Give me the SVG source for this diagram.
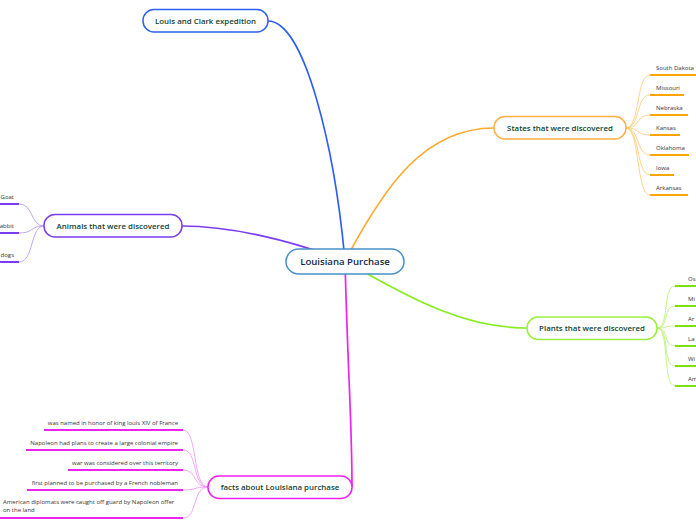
<svg xmlns="http://www.w3.org/2000/svg" width="696" height="520" viewBox="0 0 696 520">
<style>
.node rect{fill:#fff;stroke-width:1.5}
.lbl{font-family:"Open Sans","Noto Sans",sans-serif;font-size:7.9px;font-weight:600;fill:#123f30;text-anchor:middle}
.leaf{font-family:"Open Sans","Noto Sans",sans-serif;font-size:6px;fill:#333}
.main{fill:none;stroke-width:1.7}
.sub{fill:none;stroke-width:0.8}
.ul{stroke-width:2}
</style>
<rect width="696" height="520" fill="#fff"/>
<g id="connectors">
<path class="main" stroke="#2d5ff0" d="M345,261 C335,150 305,21 268,21"/>
<path class="main" stroke="#ffa92e" d="M345,261 C385,185 425,128 494,128"/>
<path class="main" stroke="#7b3cf0" d="M345,261 C290,240 230,226 182,226"/>
<path class="main" stroke="#88ee22" d="M345,261 C420,305 470,328 527,328"/>
<path class="main" stroke="#ee22ee" d="M345,261 C348,380 352,420 352,487"/>
<g stroke="#ffc870">
<path class="sub" d="M626,128 C640,128 636,75 650,75"/>
<path class="sub" d="M626,128 C640,128 636,95 650,95"/>
<path class="sub" d="M626,128 C640,128 636,115 650,115"/>
<path class="sub" d="M626,128 C640,128 636,135 650,135"/>
<path class="sub" d="M626,128 C640,128 636,155 650,155"/>
<path class="sub" d="M626,128 C640,128 636,175 650,175"/>
<path class="sub" d="M626,128 C640,128 636,195 650,195"/>
</g>
<g stroke="#b8f070">
<path class="sub" d="M657,328 C670,328 662,286 675,286"/>
<path class="sub" d="M657,328 C670,328 662,306 675,306"/>
<path class="sub" d="M657,328 C670,328 662,326 675,326"/>
<path class="sub" d="M657,328 C670,328 662,346 675,346"/>
<path class="sub" d="M657,328 C670,328 662,366 675,366"/>
<path class="sub" d="M657,328 C670,328 662,386 675,386"/>
</g>
<g stroke="#b090f8">
<path class="sub" d="M44,226 C30,226 34,204 19,204"/>
<path class="sub" d="M44,226 C30,226 34,233 19,233"/>
<path class="sub" d="M44,226 C30,226 34,262 19,262"/>
</g>
<g stroke="#f590f5">
<path class="sub" d="M208,487 C192,487 198,430 183,430"/>
<path class="sub" d="M208,487 C192,487 198,450 183,450"/>
<path class="sub" d="M208,487 C192,487 198,470 183,470"/>
<path class="sub" d="M208,487 C192,487 198,490 183,490"/>
<path class="sub" d="M208,487 C192,487 198,518 183,518"/>
</g>
<g class="ul" stroke="#ffa500">
<line x1="650" y1="75" x2="696" y2="75"/>
<line x1="650" y1="95" x2="684" y2="95"/>
<line x1="650" y1="115" x2="688" y2="115"/>
<line x1="650" y1="135" x2="680" y2="135"/>
<line x1="650" y1="155" x2="689" y2="155"/>
<line x1="650" y1="175" x2="674" y2="175"/>
<line x1="650" y1="195" x2="688" y2="195"/>
</g>
<g class="ul" stroke="#7ee010">
<line x1="675" y1="286" x2="696" y2="286"/>
<line x1="675" y1="306" x2="696" y2="306"/>
<line x1="675" y1="326" x2="696" y2="326"/>
<line x1="675" y1="346" x2="696" y2="346"/>
<line x1="675" y1="366" x2="696" y2="366"/>
<line x1="675" y1="386" x2="696" y2="386"/>
</g>
<g class="ul" stroke="#7b3cf0">
<line x1="0" y1="204" x2="19" y2="204"/>
<line x1="0" y1="233" x2="19" y2="233"/>
<line x1="0" y1="262" x2="19" y2="262"/>
</g>
<g class="ul" stroke="#ee22ee">
<line x1="44" y1="430" x2="183" y2="430"/>
<line x1="26" y1="450" x2="183" y2="450"/>
<line x1="68" y1="470" x2="183" y2="470"/>
<line x1="27" y1="490" x2="183" y2="490"/>
<line x1="0" y1="518" x2="183" y2="518"/>
</g>
</g>
<g id="center" class="node">
<rect x="286" y="249" width="118" height="25" rx="12.5" fill="#f7fbff" stroke="#4a90c8"/>
<text x="345" y="264.5" class="lbl" style="font-size:9.6px;fill:#13284a">Louisiana Purchase</text>
</g>
<g id="lewis" class="node">
<rect x="143" y="9.5" width="125" height="22.5" rx="11" stroke="#2d5ff0"/>
<text x="205.5" y="23.5" class="lbl">Louis and Clark expedition</text>
</g>
<g id="states" class="node">
<rect x="494" y="116.5" width="132" height="22.5" rx="11" stroke="#ffb040"/>
<text x="560" y="130.5" class="lbl">States that were discovered</text>
</g>
<g id="animals" class="node">
<rect x="44" y="214.5" width="138" height="22.5" rx="11" stroke="#7b3cf0"/>
<text x="113" y="228.5" class="lbl">Animals that were discovered</text>
</g>
<g id="plants" class="node">
<rect x="527" y="317" width="130" height="22.5" rx="11" stroke="#99f040"/>
<text x="592" y="331" class="lbl">Plants that were discovered</text>
</g>
<g id="facts" class="node">
<rect x="208" y="476" width="144" height="22.5" rx="11" stroke="#ee22ee"/>
<text x="280" y="490" class="lbl">facts about Louisiana purchase</text>
</g>
<g id="state-items" class="leaf">
<text x="656" y="70">South Dakota</text>
<text x="656" y="90">Missouri</text>
<text x="656" y="110">Nebraska</text>
<text x="656" y="130">Kansas</text>
<text x="656" y="150">Oklahoma</text>
<text x="656" y="170">Iowa</text>
<text x="656" y="190">Arkansas</text>
</g>
<g id="plant-items" class="leaf">
<text x="688" y="281">Os</text>
<text x="688" y="301">Mi</text>
<text x="688" y="321">Ar</text>
<text x="688" y="341">La</text>
<text x="688" y="361">Wi</text>
<text x="688" y="381">Am</text>
</g>
<g id="animal-items" class="leaf" text-anchor="end">
<text x="14" y="199">Goat</text>
<text x="14" y="228">abbit</text>
<text x="14" y="257">dogs</text>
</g>
<g id="fact-items" class="leaf" text-anchor="end">
<text x="178" y="425">was named in honor of king louis XIV of France</text>
<text x="178" y="445">Napoleon had plans to create a large colonial empire</text>
<text x="178" y="465">war was considered over this territory</text>
<text x="178" y="485">first  planned to be purchased by a French nobleman</text>
<text x="3" y="504" text-anchor="start">American diplomats were caught off guard by Napoleon offer</text>
<text x="3" y="512" text-anchor="start">on the land</text>
</g>
</svg>
